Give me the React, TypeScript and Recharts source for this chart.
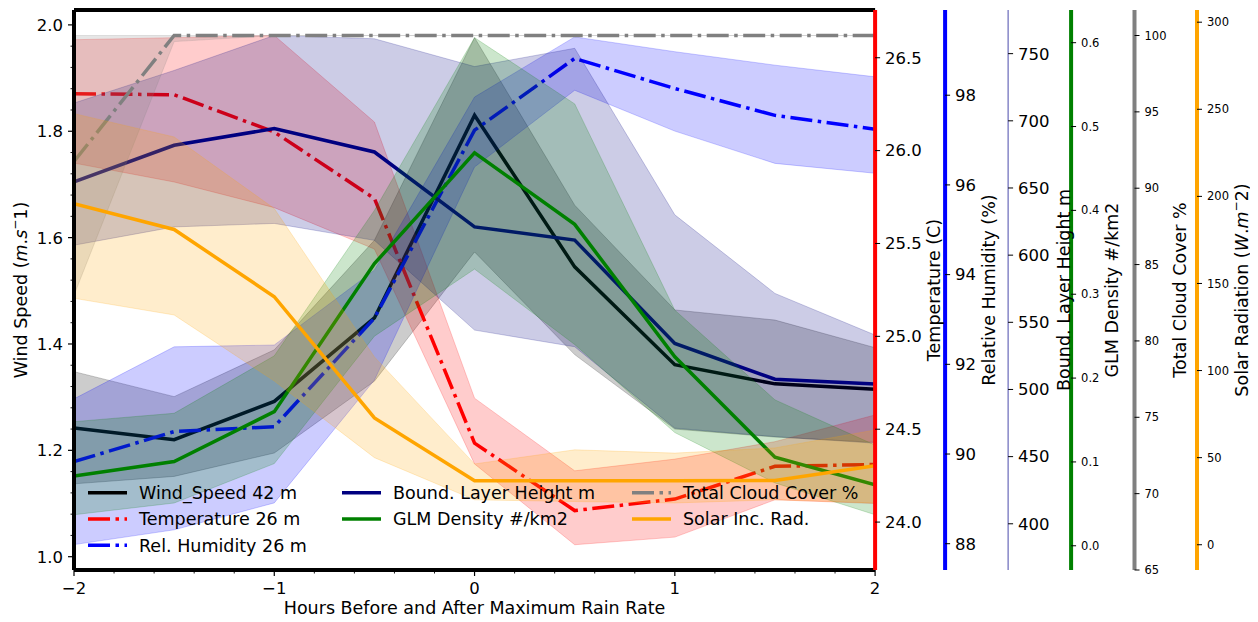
import React from "react";
import { ComposedChart, Line, Area, XAxis, YAxis, ReferenceLine } from "recharts";

// hours before/after max rain rate
const hours = [-2, -1.5, -1, -0.5, 0, 0.5, 1, 1.5, 2];

// wind speed 42 m (m/s) with spread
const windSpeed = [1.242, 1.22, 1.292, 1.449, 1.83, 1.545, 1.361, 1.325, 1.315];
const windLow = [1.137, 1.151, 1.195, 1.33, 1.573, 1.38, 1.24, 1.225, 1.215];
const windHigh = [1.348, 1.301, 1.389, 1.595, 1.976, 1.661, 1.464, 1.445, 1.393];

// temperature 26 m (C)
const temperature = [26.306, 26.301, 26.1, 25.742, 24.425, 24.062, 24.124, 24.3, 24.31];
const tempLow = [25.933, 25.831, 25.693, 25.47, 24.313, 23.878, 23.919, 24.12, 24.1];
const tempHigh = [26.597, 26.608, 26.62, 26.154, 24.667, 24.276, 24.339, 24.433, 24.577];

// relative humidity 26 m (%)
const humidity = [89.83, 90.5, 90.61, 93.03, 97.22, 98.82, 98.15, 97.55, 97.24];
const humLow = [87.98, 88.31, 88.91, 91.65, 96.4, 98.11, 97.2, 96.48, 96.26];
const humHigh = [91.23, 92.39, 92.43, 94.1, 97.96, 99.3, 98.97, 98.67, 98.41];

// boundary layer height (m)
const blHeight = [654.5, 681.8, 694.2, 676.8, 621, 611.2, 534.3, 507.6, 504.1];
const blLow = [607.4, 621, 623.6, 611, 544.2, 531.8, 471.2, 464.9, 460];
const blHigh = [713.2, 737.5, 763.6, 761.1, 740.4, 754, 630, 571.5, 540.5];

// GLM flash density (#/km2)
const glmDensity = [0.0833, 0.1004, 0.16, 0.3365, 0.4687, 0.3833, 0.2254, 0.1056, 0.0726];
const glmLow = [0.037, 0.051, 0.098, 0.25, 0.33, 0.24, 0.135, 0.075, 0.037];
const glmHigh = [0.148, 0.158, 0.2265, 0.4, 0.606, 0.527, 0.281, 0.174, 0.12];

// total cloud cover (%)
const cloudCover = [91.75, 100, 100, 100, 100, 100, 100, 100, 100];
const cloudLow = [83.0, 99.6, 100, 100, 100, 100, 100, 100, 100];
const cloudHigh = [100, 100, 100, 100, 100, 100, 100, 100, 100];

// solar incoming radiation (W/m2)
const solarRad = [195.8, 181, 142.4, 72.8, 36.7, 36.7, 36.7, 36.9, 45.3];
const solarLow = [141.5, 131.9, 94, 50, 25.8, 24.8, 24, 25.8, 24];
const solarHigh = [247.5, 234.1, 193, 107.8, 46.4, 54.5, 52.6, 55.6, 65.9];

// tick labels
const hourTicks = [-2, -1, 0, 1, 2];
const windTicks = [1.0, 1.2, 1.4, 1.6, 1.8, 2.0];
const tempTicks = [24.0, 24.5, 25.0, 25.5, 26.0, 26.5];
const humTicks = [88, 90, 92, 94, 96, 98];
const blTicks = [400, 450, 500, 550, 600, 650, 700, 750];
const glmTicks = [0.0, 0.1, 0.2, 0.3, 0.4, 0.5, 0.6];
const cloudTicks = [65, 70, 75, 80, 85, 90, 95, 100];
const solarTicks = [0, 50, 100, 150, 200, 250, 300];

// minor ticks (matplotlib AutoMinorLocator style)
const hourMinor = Array.from({ length: 21 }, (_, i) => Math.round((-2 + i * 0.2) * 10) / 10);
const windMinor = Array.from({ length: 26 }, (_, i) => Math.round((1 + i * 0.04) * 100) / 100);

const DASHDOT = "22 5.5 3.5 5.5";
const FONT = "'DejaVu Sans', sans-serif";

const CHART_W = 1250;
const CHART_H = 614;
const MARGIN = { top: 2, right: 0, bottom: 6, left: 0 };
const LEFT_W = 66;
const X_AXIS_H = 46;

// ids are prefixed so recharts stacks them outward in this order
const rightAxes = [
  { id: "r1temp", color: "red", spine: 4, width: 70, domain: [23.742, 26.757], ticks: tempTicks, digits: 1, font: 16.5, title: "Temperature (C)", titleDx: 59 },
  { id: "r2hum", color: "blue", spine: 4, width: 63, domain: [87.414, 99.9], ticks: humTicks, digits: 0, font: 16.5, title: "Relative Humidity (%)", titleDx: 44 },
  { id: "r3blh", color: "#4b4bab", spine: 1, width: 63, domain: [365.6, 782.5], ticks: blTicks, digits: 0, font: 16.5, title: "Bound. Layer Height m", titleDx: 56 },
  { id: "r4glm", color: "green", spine: 4, width: 63.4, domain: [-0.0289, 0.639], ticks: glmTicks, digits: 1, font: 11.5, title: "GLM Density #/km2", titleDx: 41 },
  { id: "r5cloud", color: "gray", spine: 4, width: 62.5, domain: [65.0, 101.67], ticks: cloudTicks, digits: 0, font: 11.5, title: "Total Cloud Cover %", titleDx: 45 },
  { id: "r6solar", color: "orange", spine: 4, width: 61, domain: [-14.5, 307.0], ticks: solarTicks, digits: 0, font: 11.5, title: "", titleDx: 45 },
];

const PLOT_LEFT = MARGIN.left + LEFT_W;
const PLOT_TOP = MARGIN.top;
const PLOT_BOTTOM = CHART_H - MARGIN.bottom - X_AXIS_H;
const PLOT_RIGHT = CHART_W - MARGIN.right - rightAxes.reduce((s, a) => s + a.width, 0);
const PLOT_MID_Y = (PLOT_TOP + PLOT_BOTTOM) / 2;

const rows = hours.map((h, i) => ({
  hour: h,
  wind: windSpeed[i],
  windBand: [windLow[i], windHigh[i]],
  temp: temperature[i],
  tempBand: [tempLow[i], tempHigh[i]],
  hum: humidity[i],
  humBand: [humLow[i], humHigh[i]],
  blh: blHeight[i],
  blhBand: [blLow[i], blHigh[i]],
  glm: glmDensity[i],
  glmBand: [glmLow[i], glmHigh[i]],
  cloud: cloudCover[i],
  cloudBand: [cloudLow[i], cloudHigh[i]],
  solar: solarRad[i],
  solarBand: [solarLow[i], solarHigh[i]],
}));

// drawing order follows the twin axes of the original figure
const series = [
  { key: "wind", axis: "wind", color: "black", dash: undefined, label: "Wind_Speed 42 m" },
  { key: "temp", axis: "r1temp", color: "red", dash: DASHDOT, label: "Temperature 26 m" },
  { key: "hum", axis: "r2hum", color: "blue", dash: DASHDOT, label: "Rel. Humidity 26 m" },
  { key: "blh", axis: "r3blh", color: "navy", dash: undefined, label: "Bound. Layer Height m" },
  { key: "glm", axis: "r4glm", color: "green", dash: undefined, label: "GLM Density #/km2" },
  { key: "cloud", axis: "r5cloud", color: "gray", dash: DASHDOT, label: "Total Cloud Cover %" },
  { key: "solar", axis: "r6solar", color: "orange", dash: undefined, label: "Solar Inc. Rad." },
];

const legendColumns = [
  ["wind", "temp", "hum"],
  ["blh", "glm"],
  ["cloud", "solar"],
];

const near = (a: number, list: number[]) => list.some((t) => Math.abs(t - a) < 1e-6);

const HourTick = (props: any) => {
  const { x, y, payload } = props;
  const v = payload.value as number;
  const major = near(v, hourTicks);
  return (
    <g>
      <line x1={x} x2={x} y1={y} y2={y + (major ? 6 : 3.5)} stroke="#000" strokeWidth={major ? 1.2 : 0.9} />
      {major && (
        <text x={x} y={y + 18} dy="0.36em" textAnchor="middle" fontSize={16.5} fill="#000" fontFamily={FONT}>
          {v < 0 ? `\u2212${Math.abs(v)}` : `${v}`}
        </text>
      )}
    </g>
  );
};

const WindTick = (props: any) => {
  const { x, y, payload } = props;
  const v = payload.value as number;
  const major = near(v, windTicks);
  return (
    <g>
      <line x1={x} x2={x - (major ? 6 : 3.5)} y1={y} y2={y} stroke="#000" strokeWidth={major ? 1.2 : 0.9} />
      {major && (
        <text x={x - 11} y={y} dy="0.36em" textAnchor="end" fontSize={16.5} fill="#000" fontFamily={FONT}>
          {v.toFixed(1)}
        </text>
      )}
    </g>
  );
};

const App: React.FC = () => {
  let axisX = PLOT_RIGHT;
  const titleXs = rightAxes.map((a) => {
    const tx = axisX + a.titleDx;
    axisX += a.width;
    return tx;
  });

  return (
    <div style={{ position: "relative", width: CHART_W, height: 606, fontFamily: FONT }}>
      <ComposedChart width={CHART_W} height={CHART_H} data={rows} margin={MARGIN}>
        <XAxis
          dataKey="hour"
          type="number"
          domain={[-2, 2]}
          ticks={hourMinor}
          interval={0}
          allowDataOverflow
          height={X_AXIS_H}
          tickSize={0}
          tickMargin={0}
          tickLine={false}
          tick={(p: any) => <HourTick {...p} />}
          axisLine={{ stroke: "#000", strokeWidth: 4 }}
        />
        <YAxis
          yAxisId="wind"
          orientation="left"
          width={LEFT_W}
          domain={[0.975, 2.028]}
          ticks={windMinor}
          interval={0}
          allowDataOverflow
          tickSize={0}
          tickMargin={0}
          tickLine={false}
          tick={(p: any) => <WindTick {...p} />}
          axisLine={{ stroke: "#000", strokeWidth: 4 }}
        />
        {rightAxes.map((a) => (
          <YAxis
            key={a.id}
            yAxisId={a.id}
            orientation="right"
            width={a.width}
            domain={a.domain}
            ticks={a.ticks}
            interval={0}
            allowDataOverflow
            tickSize={5}
            tickMargin={5}
            tickFormatter={(v: number) => v.toFixed(a.digits)}
            tick={{ fill: "#000", fontSize: a.font, fontFamily: FONT }}
            tickLine={{ stroke: "#000", strokeWidth: 1 }}
            axisLine={{ stroke: a.color, strokeWidth: a.spine }}
          />
        ))}

        {series.map((s, i) => (
          <Area
            key={`${s.key}-band`}
            yAxisId={s.axis}
            dataKey={`${s.key}Band`}
            type="linear"
            fill={s.color}
            fillOpacity={0.2}
            stroke={s.color}
            strokeOpacity={0.2}
            strokeWidth={1}
            dot={false}
            activeDot={false}
            isAnimationActive={false}
            zIndex={100 + i * 2}
          />
        ))}
        {series.map((s, i) => (
          <Line
            key={`${s.key}-line`}
            yAxisId={s.axis}
            dataKey={s.key}
            type="linear"
            stroke={s.color}
            strokeWidth={3.5}
            strokeDasharray={s.dash}
            dot={false}
            activeDot={false}
            isAnimationActive={false}
            zIndex={101 + i * 2}
          />
        ))}
        <ReferenceLine yAxisId="wind" y={2.028} stroke="#000" strokeWidth={4} ifOverflow="visible" />
      </ComposedChart>

      <svg
        width={CHART_W}
        height={CHART_H}
        style={{ position: "absolute", left: 0, top: 0, pointerEvents: "none" }}
        fontFamily={FONT}
      >
        <text transform={`translate(13,${PLOT_MID_Y}) rotate(-90)`} textAnchor="middle" dominantBaseline="central" fontSize={17.5}>
          Wind Speed (<tspan fontStyle="italic">m</tspan>.<tspan fontStyle="italic">s</tspan>
          <tspan dy={-6} fontSize={12}>{"\u2212"}</tspan>
          <tspan dy={6}>1)</tspan>
        </text>
        <text x={(PLOT_LEFT + PLOT_RIGHT) / 2} y={600} dominantBaseline="central" textAnchor="middle" fontSize={17.5}>
          Hours Before and After Maximum Rain Rate
        </text>
        {rightAxes.map((a, i) =>
          a.id === "r6solar" ? (
            <text key={a.id} transform={`translate(${titleXs[i]},${PLOT_MID_Y}) rotate(-90)`} textAnchor="middle" dominantBaseline="central" fontSize={17.5}>
              Solar Radiation (<tspan fontStyle="italic">W</tspan>.<tspan fontStyle="italic">m</tspan>
              <tspan dy={-6} fontSize={12}>{"\u2212"}</tspan>
              <tspan dy={6}>2)</tspan>
            </text>
          ) : (
            <text key={a.id} transform={`translate(${titleXs[i]},${PLOT_MID_Y}) rotate(-90)`} textAnchor="middle" dominantBaseline="central" fontSize={17.5}>
              {a.title}
            </text>
          )
        )}

        {legendColumns.map((col, ci) =>
          col.map((key, ri) => {
            const s = series.find((x) => x.key === key)!;
            const x0 = [80, 334, 624][ci];
            const y0 = 484.7 + ri * 26.3;
            return (
              <g key={key}>
                <line x1={x0} x2={x0 + 39} y1={y0} y2={y0} stroke={s.color} strokeWidth={3.5} strokeDasharray={s.dash} />
                <text x={x0 + 51} y={y0} dy="0.36em" fontSize={17.5} fill="#000">
                  {s.label}
                </text>
              </g>
            );
          })
        )}
      </svg>
    </div>
  );
};

export default App;
